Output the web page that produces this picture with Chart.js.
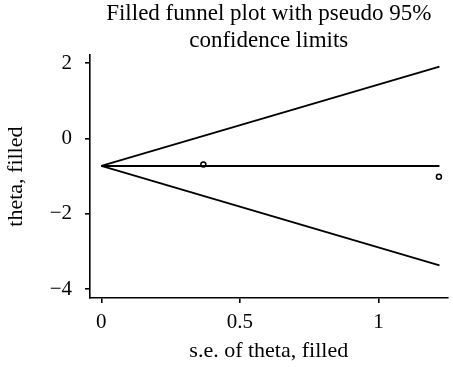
<!DOCTYPE html>
<html>
<head>
<meta charset="utf-8">
<script src="https://cdn.jsdelivr.net/npm/chart.js@4"></script>
<style>
    html, body { margin: 0; padding: 0; background: #fff; }
    #wrap { width: 453px; height: 367px; }
</style>
</head>
<body>
<div id="wrap"><canvas id="funnel"></canvas></div>
<script>
// funnel limits
const seLimits = [0, 1.22];
const upperLimit = [-0.73, 1.91];
const lowerLimit = [-0.73, -3.37];
const pooled = [-0.73, -0.73];

// studies (observed + filled)
const studySe = [0.368, 1.218];
const studyTheta = [-0.69, -1.02];

const xTicks = [0, 0.5, 1];
const yTicks = [-4, -2, 0, 2];

function pts(xs, ys) {
    return xs.map((x, i) => ({ x: x, y: ys[i] }));
}

const font = 'Liberation Serif';

function lineSet(ys) {
    return {
        type: 'line',
        data: pts(seLimits, ys),
        borderColor: '#000',
        borderWidth: 1.9,
        pointRadius: 0,
        fill: false,
        tension: 0
    };
}

Chart.defaults.font.family = font;
Chart.defaults.color = '#000';

new Chart(document.getElementById('funnel').getContext('2d'), {
    type: 'scatter',
    data: {
        datasets: [
            lineSet(upperLimit),
            lineSet(lowerLimit),
            lineSet(pooled),
            {
                type: 'scatter',
                data: pts(studySe, studyTheta),
                pointStyle: 'circle',
                pointRadius: 2.5,
                borderColor: '#000',
                borderWidth: 1.5,
                backgroundColor: '#fff'
            }
        ]
    },
    options: {
        responsive: true,
        maintainAspectRatio: false,
        animation: false,
        layout: { padding: 0 },
        plugins: {
            legend: { display: false },
            tooltip: { enabled: false },
            title: {
                display: true,
                fullSize: false,
                text: ['Filled funnel plot with pseudo 95%', 'confidence limits'],
                font: { size: 23, weight: 'normal', family: font, lineHeight: 1.2 },
                color: '#000',
                padding: { top: 0, bottom: 0 },
                align: 'center'
            }
        },
        scales: {
            x: {
                type: 'linear',
                min: -0.041,
                max: 1.249,
                afterBuildTicks: s => { s.ticks = xTicks.map(v => ({ value: v })); },
                afterFit: s => { s.height = 69; },
                ticks: { font: { size: 21 }, color: '#000', padding: 7, callback: v => String(v) },
                grid: { drawOnChartArea: false, tickLength: 5, color: '#000', lineWidth: 1.6 },
                border: { display: true, color: '#000', width: 1.6 },
                title: {
                    display: true,
                    text: 's.e. of theta, filled',
                    font: { size: 22 },
                    color: '#000',
                    padding: { top: 0, bottom: 3 }
                }
            },
            y: {
                type: 'linear',
                min: -4.239,
                max: 2.212,
                afterBuildTicks: s => { s.ticks = yTicks.map(v => ({ value: v })); },
                afterFit: s => { s.width = 90; },
                ticks: {
                    font: { size: 21 },
                    color: '#000',
                    padding: 13,
                    callback: v => v < 0 ? '\u2212' + Math.abs(v) : String(v)
                },
                grid: { drawOnChartArea: false, tickLength: 5, color: '#000', lineWidth: 1.6 },
                border: { display: true, color: '#000', width: 1.6 },
                title: {
                    display: true,
                    text: 'theta, filled',
                    font: { size: 22 },
                    color: '#000',
                    padding: { top: 3, bottom: 0 }
                }
            }
        }
    }
});
</script>
</body>
</html>
